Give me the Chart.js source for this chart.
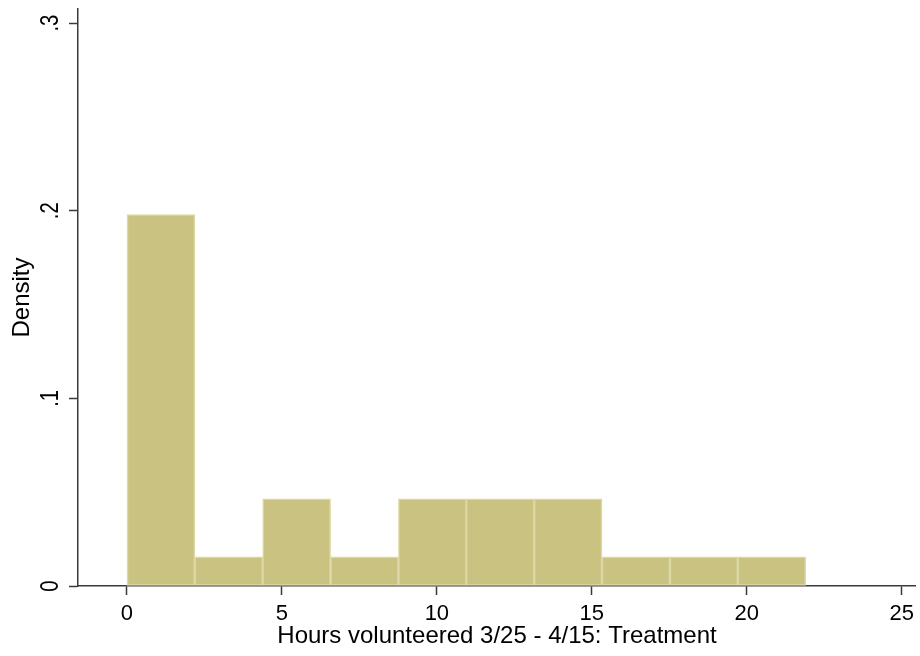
<!DOCTYPE html>
<html>
<head>
<meta charset="utf-8">
<script src="https://cdn.jsdelivr.net/npm/chart.js@4/dist/chart.umd.min.js"></script>
<style>
  html, body { margin: 0; padding: 0; background: #ffffff; }
  canvas { display: block; }
</style>
</head>
<body>
<canvas id="hist" width="920" height="656"></canvas>
<script>
// Histogram bins: lower edge of each bin (hours) and common bin width
const binStarts = [0, 2.19, 4.38, 6.57, 8.76, 10.95, 13.14, 15.33, 17.52, 19.71];
const binWidth = 2.19;
// Density of each bin
const densities = [0.198, 0.0155, 0.0465, 0.0155, 0.0465, 0.0465, 0.0465, 0.0155, 0.0155, 0.0155];

// Axis ticks
const xTickValues = [0, 5, 10, 15, 20, 25];
const yTickValues = [0, 0.1, 0.2, 0.3];
const yTickLabels = ['0', '.1', '.2', '.3'];

const xTitle = 'Hours volunteered 3/25 - 4/15: Treatment';
const yTitle = 'Density';

const FONT = '"Liberation Sans", Arial, sans-serif';
const AXIS_COLOR = '#3a3a3a';

const points = binStarts.map((s, i) => ({ x: s + binWidth / 2, y: densities[i] }));

// White page behind the plot
const whiteBackground = {
  id: 'whiteBackground',
  beforeDraw(chart) {
    const ctx = chart.ctx;
    ctx.save();
    ctx.fillStyle = '#ffffff';
    ctx.fillRect(0, 0, chart.width, chart.height);
    ctx.restore();
  }
};

// Vertical (rotated) labels on the density axis
const rotatedYLabels = {
  id: 'rotatedYLabels',
  afterDraw(chart) {
    const ctx = chart.ctx;
    const y = chart.scales.y;
    ctx.save();
    ctx.fillStyle = '#000000';
    ctx.font = '26px ' + FONT;
    ctx.textAlign = 'center';
    ctx.textBaseline = 'alphabetic';
    yTickValues.forEach((v, i) => {
      const py = y.getPixelForValue(v);
      ctx.save();
      ctx.translate(57.5, py);
      ctx.rotate(-Math.PI / 2);
      ctx.scale(0.78, 1);
      ctx.fillText(yTickLabels[i], 0, 0);
      ctx.restore();
    });
    ctx.restore();
  }
};

new Chart(document.getElementById('hist'), {
  type: 'bar',
  data: {
    datasets: [{
      label: yTitle,
      data: points,
      backgroundColor: '#c9c281',
      borderColor: '#dcd8a4',
      borderWidth: 1.5,
      borderSkipped: false,
      barPercentage: 1,
      categoryPercentage: 1
    }]
  },
  options: {
    responsive: false,
    animation: false,
    devicePixelRatio: 1,
    layout: { padding: { top: 9, right: 3, left: 0, bottom: 0 } },
    plugins: {
      legend: { display: false },
      tooltip: { enabled: false },
      title: { display: false }
    },
    scales: {
      x: {
        type: 'linear',
        min: -1.58,
        max: 25.46,
        offset: false,
        afterBuildTicks(scale) { scale.ticks = xTickValues.map(v => ({ value: v })); },
        afterFit(scale) { scale.height = 70; },
        grid: {
          offset: false,
          drawOnChartArea: false,
          drawTicks: true,
          tickLength: 9,
          tickColor: AXIS_COLOR,
          tickWidth: 1.5
        },
        border: { display: true, color: AXIS_COLOR, width: 1.5 },
        ticks: {
          color: '#000000',
          font: { family: FONT, size: 22 },
          padding: 6,
          maxRotation: 0,
          autoSkip: false,
          callback: (v) => String(v)
        },
        title: {
          display: true,
          text: xTitle,
          color: '#000000',
          font: { family: FONT, size: 24 },
          padding: { top: 0, bottom: 5.6 }
        }
      },
      y: {
        min: 0,
        max: 0.3075,
        afterBuildTicks(scale) { scale.ticks = yTickValues.map(v => ({ value: v })); },
        afterFit(scale) { scale.width = 78; },
        grid: {
          drawOnChartArea: false,
          drawTicks: true,
          tickLength: 9,
          tickColor: AXIS_COLOR,
          tickWidth: 1.5
        },
        border: { display: true, color: AXIS_COLOR, width: 1.5 },
        ticks: { display: false },
        title: {
          display: true,
          text: yTitle,
          color: '#000000',
          font: { family: FONT, size: 24 },
          padding: { top: 8.3, bottom: 0 }
        }
      }
    }
  },
  plugins: [whiteBackground, rotatedYLabels]
});
</script>
</body>
</html>
